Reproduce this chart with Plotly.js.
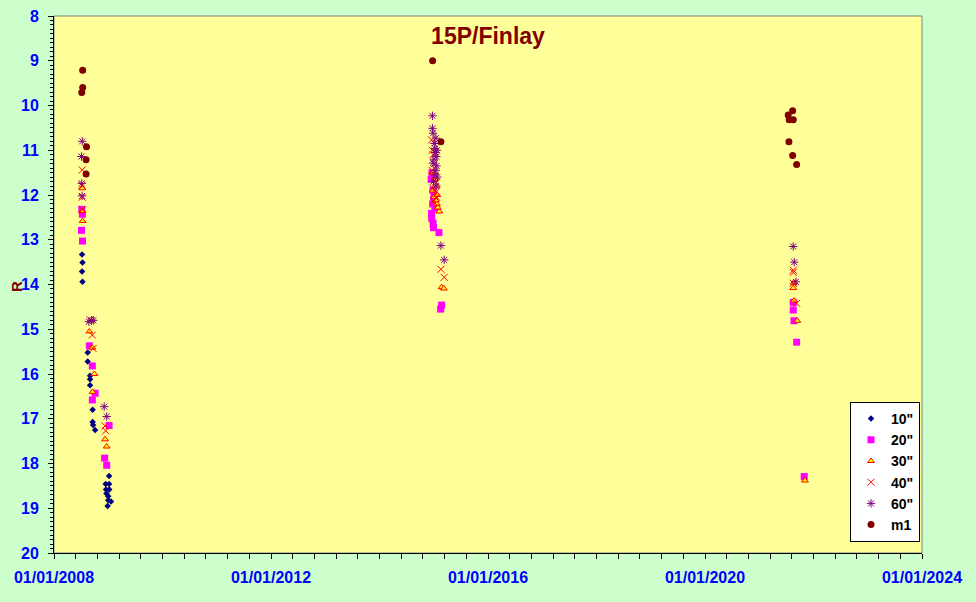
<!DOCTYPE html>
<html>
<head>
<meta charset="utf-8">
<script src="https://cdn.plot.ly/plotly-3.0.1.min.js"></script>
<style>
html,body{margin:0;padding:0;background:#CCFFCC;}
#chart{width:976px;height:602px;}
</style>
</head>
<body>
<div id="chart"></div>
<script>
// ---- data ----
const seriesNames = ['10"', '20"', '30"', '40"', '60"', 'm1'];

const d10 = ['2008-07-08','2008-07-11','2008-07-08','2008-07-11','2008-08-15','2008-08-15','2008-08-31','2008-08-31','2008-08-31','2008-09-17','2008-09-17','2008-09-20','2008-10-04',
  '2009-01-06','2008-12-14','2009-01-06','2008-12-16','2009-01-07','2008-12-19','2008-12-31','2009-01-19','2008-12-27','2008-12-31'];
const m10 = [13.33,13.51,13.71,13.94,15.52,15.72,16.04,16.12,16.25,16.80,17.07,17.14,17.25,
  18.28,18.46,18.46,18.58,18.58,18.67,18.73,18.85,18.95,18.82];

const d20 = ['2008-07-06','2008-07-10','2008-07-04','2008-07-11','2008-08-26','2008-09-15','2008-10-04','2008-09-15','2009-01-06','2008-12-07','2008-12-21',
  '2014-12-14','2014-12-27','2014-12-17','2014-12-27','2014-12-30','2015-02-05','2014-12-20','2015-01-02','2014-12-24','2015-01-08','2014-12-18','2014-12-31','2015-02-23','2015-02-16',
  '2021-08-17','2021-08-17','2021-08-22','2021-09-09','2021-10-30'];
const m20 = [12.32,12.43,12.79,13.03,15.37,15.82,16.43,16.58,17.15,17.88,18.04,
  11.65,11.89,12.41,12.63,12.73,12.84,11.50,12.00,12.20,12.30,12.52,12.10,14.46,14.55,
  14.40,14.57,14.81,15.29,18.29];

const d30 = ['2008-07-09','2008-07-09','2008-07-12','2008-08-26','2008-09-15','2008-09-29','2008-09-17','2008-12-10','2008-12-21',
  '2015-01-20','2015-01-04','2015-01-22','2015-02-07','2014-12-28','2015-01-10','2014-12-24','2015-01-25','2015-01-15','2015-01-28','2015-02-23','2015-03-10',
  '2021-08-20','2021-08-17','2021-08-22','2021-09-13','2021-11-04'];
const m30 = [11.85,12.36,12.58,15.05,15.41,16.00,16.40,17.46,17.62,
  11.81,12.04,12.20,12.37,11.50,11.65,11.90,12.00,12.12,12.28,14.06,14.09,
  13.96,14.08,14.36,14.81,18.38];

const d40 = ['2008-07-09','2008-07-08','2008-07-09','2008-07-10','2008-08-31','2008-09-15','2008-09-20','2008-12-10','2008-12-14',
  '2014-12-17','2014-12-27','2015-01-09','2014-12-22','2015-01-05','2014-12-20','2015-01-15','2014-12-25','2015-01-12','2015-01-20','2014-12-30','2015-02-18','2015-03-12',
  '2021-08-17','2021-08-17','2021-08-17','2021-09-09'];
const m40 = [11.44,11.78,12.05,12.33,14.79,15.13,15.43,17.16,17.27,
  10.77,11.10,11.59,11.00,11.30,11.45,11.70,11.85,11.95,12.05,12.15,13.66,13.84,
  13.68,13.73,13.97,14.42];

const d60 = ['2008-07-09','2008-07-04','2008-07-06','2008-07-08','2008-08-23','2008-09-10','2008-09-22','2008-12-04','2008-12-21',
  '2014-12-23','2014-12-23','2014-12-27','2015-01-15','2015-01-09','2015-01-18','2014-12-27','2015-01-15','2015-01-05','2015-01-22','2015-01-12','2015-01-02','2015-01-20','2015-01-08','2015-01-25','2014-12-30','2015-01-17','2015-02-18','2015-03-12',
  '2021-08-17','2021-08-24','2021-09-04'];
const m60 = [10.80,11.14,11.74,12.02,14.83,14.80,14.80,16.73,16.95,
  10.23,10.51,10.62,10.73,10.96,11.14,11.29,11.45,10.85,11.00,11.05,11.20,11.35,11.55,11.60,11.70,11.80,13.13,13.45,
  13.15,13.50,13.94];

const dm1 = ['2008-07-12','2008-07-12','2008-07-06','2008-08-07','2008-08-04','2008-08-04',
  '2014-12-24','2015-02-18',
  '2021-08-13','2021-07-14','2021-07-21','2021-08-17','2021-07-19','2021-08-13','2021-09-09'];
const mm1 = [9.21,9.60,9.71,10.92,11.21,11.53,
  9.00,10.81,
  10.12,10.21,10.32,10.32,10.81,11.12,11.32];

const xTickVals = ['2008-01-01','2012-01-01','2016-01-01','2020-01-01','2024-01-01'];
const xTickText = ['01/01/2008','01/01/2012','01/01/2016','01/01/2020','01/01/2024'];
const yTickVals = [8,9,10,11,12,13,14,15,16,17,18,19,20];
const yTickText = ['8','9','10','11','12','13','14','15','16','17','18','19','20'];
const yTitle = 'R';
const chartTitle = '15P/Finlay';

// ---- traces ----
function tr(name, x, y, marker){
  return {type:'scatter', mode:'markers', name:name, x:x, y:y, marker:marker, hoverinfo:'x+y'};
}
const traces = [
  tr(seriesNames[0], d10, m10, {symbol:'diamond', size:5, color:'#000080'}),
  tr(seriesNames[1], d20, m20, {symbol:'square', size:7, color:'#FF00FF'}),
  tr(seriesNames[2], d30, m30, {symbol:'triangle-up', size:6, color:'#FFFF00', line:{color:'#FF0000', width:1}}),
  tr(seriesNames[3], d40, m40, {symbol:'x-thin-open', size:7, color:'#FF0000', line:{color:'#FF0000', width:1}}),
  tr(seriesNames[4], d60, m60, {symbol:'asterisk-open', size:7, color:'#800080', line:{color:'#800080', width:1}}),
  tr(seriesNames[5], dm1, mm1, {symbol:'circle', size:7, color:'#800000'})
];

const FONT = 'Liberation Sans, Arial, sans-serif';
const tickFont = {family:FONT, size:16, color:'#0000FF', weight:'bold'};

const layout = {
  width:976, height:602,
  margin:{l:54, r:54, t:16, b:49, pad:0},
  paper_bgcolor:'#CCFFCC',
  plot_bgcolor:'#FFFF99',
  title:{text:chartTitle, x:0.5, xref:'paper', xanchor:'center', y:1-36/602, yref:'container', yanchor:'middle',
    font:{family:FONT, size:23, color:'#800000', weight:'bold'}},
  showlegend:true,
  legend:{x:(920-54)/868, y:(553-402)/537, xanchor:'right', yanchor:'top', bgcolor:'#FFFFFF', bordercolor:'#000000', borderwidth:1,
    font:{family:FONT, size:14, color:'#000000', weight:'bold'}, itemwidth:30, tracegroupgap:0},
  xaxis:{
    type:'date', range:['2008-01-01','2024-01-01'], autorange:false,
    tickmode:'array', tickvals:xTickVals, ticktext:xTickText,
    ticks:'outside', ticklen:5, tickcolor:'#000000', tickwidth:1,
    minor:{dtick:146.1*86400000, tick0:'2008-01-01', ticks:'outside', ticklen:5, tickcolor:'#000000', showgrid:false},
    showline:true, linecolor:'#000000', linewidth:1, mirror:false,
    showgrid:false, zeroline:false, tickfont:tickFont, ticklabelstandoff:5, automargin:false
  },
  yaxis:{
    range:[20,8], autorange:false,
    tickmode:'array', tickvals:yTickVals, ticktext:yTickText,
    ticks:'outside', ticklen:5, tickcolor:'#000000', tickwidth:1,
    minor:{dtick:0.1, tick0:8, ticks:'outside', ticklen:3, tickcolor:'#000000', showgrid:false},
    showline:true, linecolor:'#000000', linewidth:1, mirror:false,
    showgrid:false, zeroline:false, tickfont:tickFont, ticklabelstandoff:6, automargin:false
  },
  annotations:[{text:yTitle, xref:'paper', yref:'paper', x:(16-54)/868, y:(553-287)/537, xanchor:'center', yanchor:'middle',
    textangle:-90, showarrow:false, font:{family:FONT, size:15, color:'#800000', weight:'bold'}}],
  shapes:[{type:'rect', xref:'paper', yref:'paper', x0:0, x1:1, y0:0, y1:1, line:{color:'#808080', width:1}, layer:'below'}]
};

Plotly.newPlot('chart', traces, layout, {displayModeBar:false, staticPlot:true});
</script>
</body>
</html>
